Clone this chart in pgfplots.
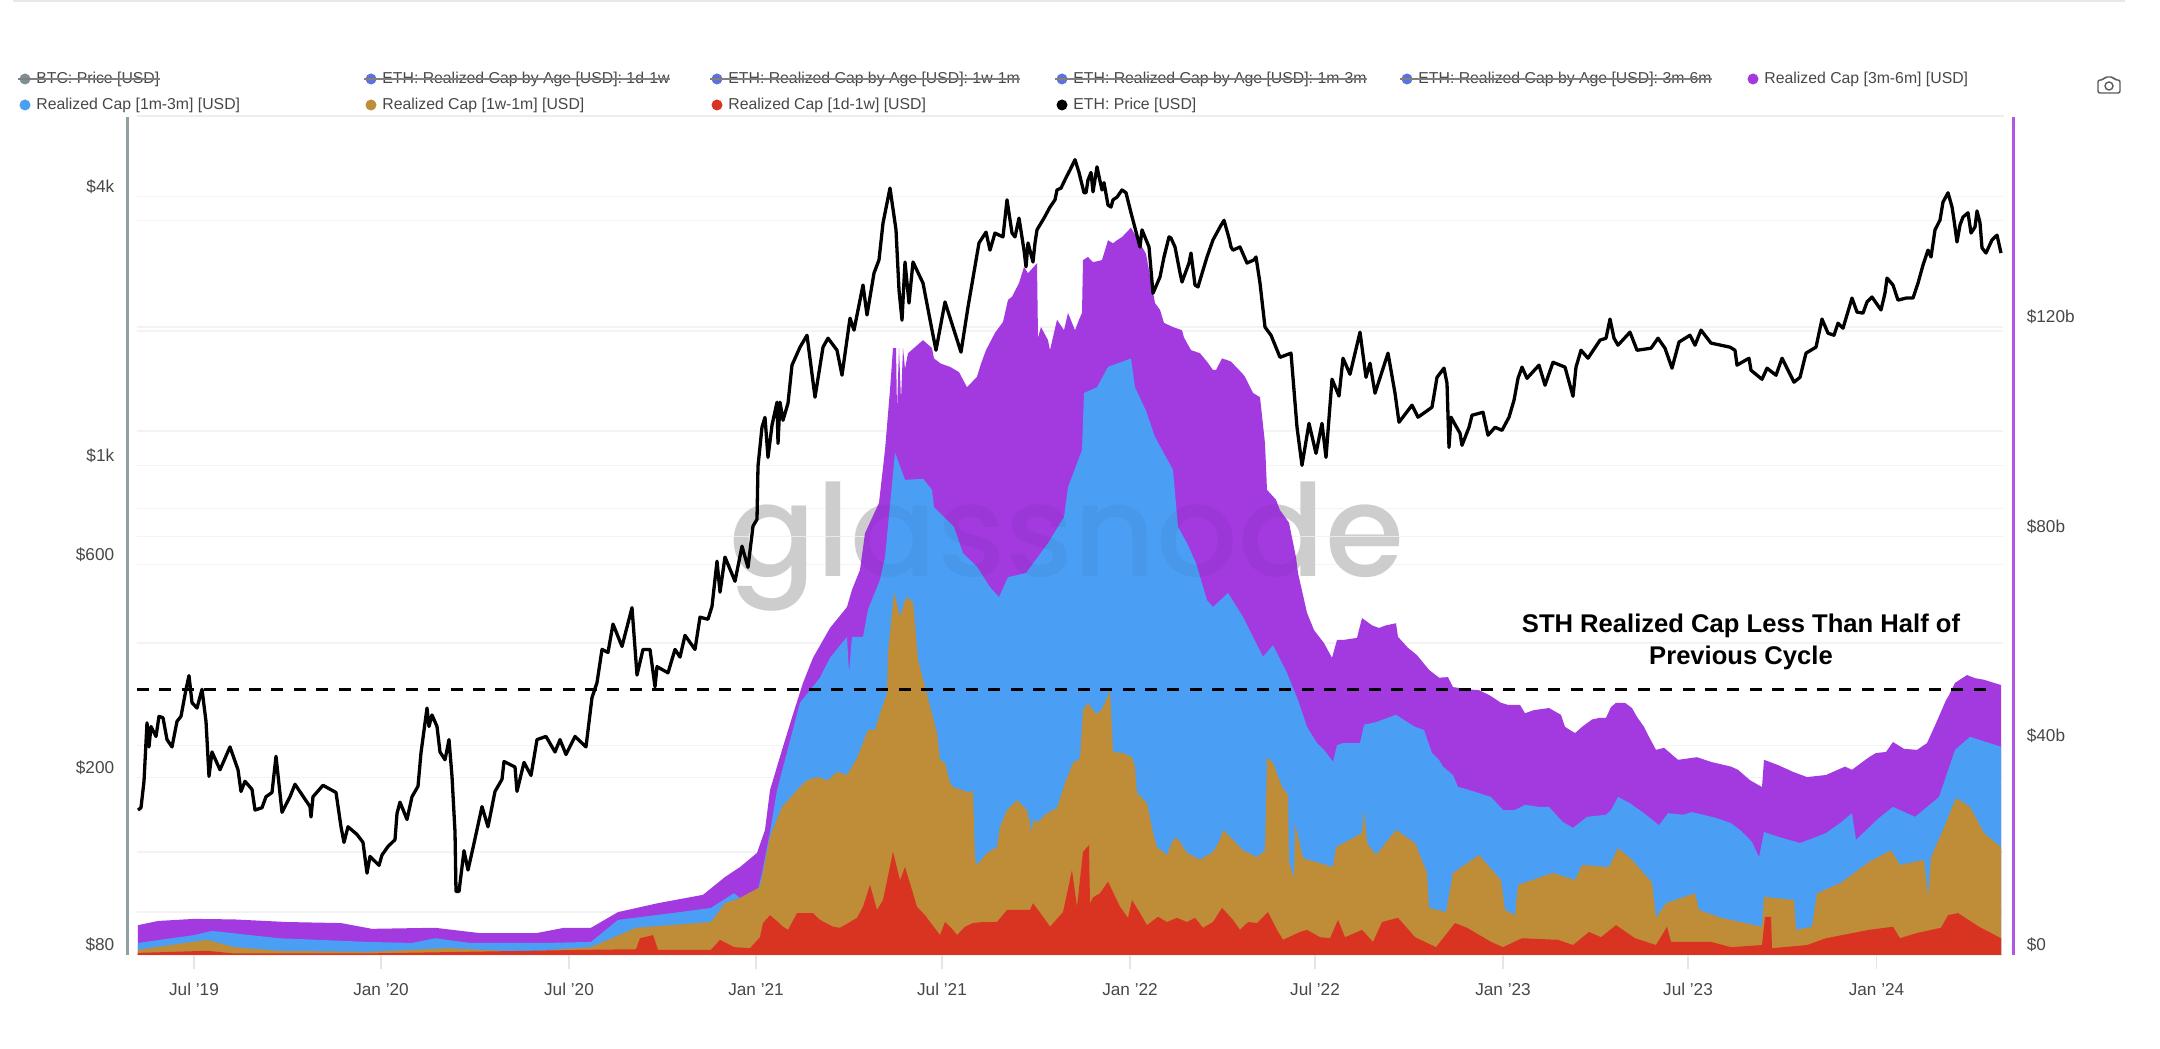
\documentclass[border=0pt]{standalone}
\usepackage{fontspec}
\usepackage{pgfplots}
\pgfplotsset{compat=1.18}
\setmainfont{Liberation Sans}
\newfontfamily\wmfont[UprightFont=* Medium]{Poppins}

\definecolor{cpurple}{HTML}{A23ADF}
\definecolor{cblue}{HTML}{4A9FF5}
\definecolor{corange}{HTML}{BF8C38}
\definecolor{cred}{HTML}{D93422}
\definecolor{ceth}{HTML}{5F72DC}
\definecolor{cbtc}{HTML}{7F8F94}
\definecolor{cgrid}{HTML}{F3F3F3}
\definecolor{ctext}{HTML}{474747}

% x is the position on the time axis, 187.5 units to the half year; y is $bn (stacks are cumulative)
\pgfplotstableread{
t v
138 5.7
158 6.5
194 6.9
234 6.8
287 6.3
341 6.1
372 5.0
435 5.2
479 4.2
537 4.2
564 5.2
591 5.2
618 8.2
658 9.9
703 11.5
725 14.9
740 16.8
757 19.5
765 23.9
770 31.5
777 36
783 39.8
793 46
803 52
813 56.8
830 62.5
847 66.5
852 69.8
860 73.6
865 80.6
879 86.4
885 96.5
890 108
893 116
896 116
897 104
899 116
901 106
903 116
905 112
908 115
923 117.5
932 116
934 114
941 113
950 112.4
959 111.4
967 108.5
972 109.5
977 110.5
981 113
986 115.6
995 118.9
1003 121
1008 125.2
1012 125.8
1019 128.4
1024 131.5
1028 130.3
1037 132.2
1038 118
1041 120
1048 117.5
1050 115.6
1057 121.4
1064 119.4
1068 122.7
1075 119.4
1079 121.4
1082 122.7
1083 132.8
1088 133.4
1093 132.4
1102 132.8
1108 136.6
1113 136
1117 136.6
1122 137.2
1131 139
1146 134
1155 124.6
1160 123.3
1164 120.8
1173 120
1182 119.4
1184 118
1191 115.6
1200 115
1207 113.4
1213 111.8
1216 111.8
1222 114
1227 113.7
1231 113.4
1242 111.2
1245 110.5
1253 107.4
1260 106.6
1265 97.8
1267 88.9
1276 87
1280 85
1289 82.6
1296 76
1298 73
1307 65.4
1314 62.1
1324 59.6
1332 56.8
1337 60.2
1343 60.2
1357 60.6
1362 64.4
1372 63
1379 62.5
1386 63
1396 63.4
1398 60.8
1408 58.7
1417 57.3
1429 54.5
1439 53
1448 53.1
1453 51.2
1467 50.8
1479 50.6
1489 49.7
1501 48.2
1508 47.8
1520 47.8
1525 46.2
1534 46.8
1549 47.2
1561 45.9
1565 43.6
1575 42.4
1582 43.6
1592 45
1599 45.3
1606 45.3
1611 47.4
1616 48.2
1625 48.2
1632 47.2
1637 45.5
1644 43.6
1649 41.7
1656 39.2
1664 39.6
1678 37.3
1697 37.8
1711 36.9
1731 36
1738 35.4
1750 33.4
1762 32.1
1764 37.3
1778 36.3
1793 35
1807 34
1826 34.4
1845 36
1852 35.4
1869 37.8
1876 38.6
1886 38.8
1893 40.7
1904 39.4
1917 39.2
1927 40.5
1936 44.3
1946 48.7
1948 49.3
1955 52
1967 53.5
1975 52.9
1984 52.6
1994 52
2001 51.6
}\tpurple

\pgfplotstableread{
t v
138 2.3
194 3.8
212 4.6
279 3.2
368 2.5
412 2.3
435 3.2
470 2.3
546 2.3
591 2.5
618 6.7
680 8.2
711 9
734 11.8
740 10.9
757 11.8
762 15.7
770 23.5
777 31.5
800 48.2
820 53
830 56.8
847 60.8
849 54
852 60.8
863 60.8
868 66
880 71.7
885 76
892 90
895 96
905 90.8
923 91
932 88.9
934 85.6
954 81.8
963 76.8
977 74.2
990 70.3
999 68.4
1008 72.2
1026 73
1048 78.7
1064 83.7
1068 89.4
1082 96.5
1084 107.4
1097 108.5
1108 112.4
1131 114
1135 108.5
1146 104
1155 99
1173 92.7
1178 81.8
1187 78.7
1196 74.9
1207 67.8
1213 66.5
1228 69.2
1243 64.6
1263 57
1273 59.2
1287 53.9
1298 48.7
1307 43.6
1317 40.5
1324 39.2
1333 36.9
1337 40.1
1343 40.5
1360 40.5
1364 44
1376 44.5
1396 45.9
1415 43.6
1424 43
1432 38.6
1439 37.3
1443 36
1453 34.4
1458 32.1
1463 31.9
1491 30.2
1503 27.7
1515 27.7
1525 28.7
1539 28.3
1549 28.3
1558 26.4
1563 25.4
1573 24.3
1587 26.4
1606 26.8
1611 27.7
1618 30.2
1630 29
1635 28.3
1644 27.1
1659 24.8
1668 27.1
1683 26.8
1692 27.3
1716 26.2
1731 25.2
1740 23.9
1752 21.6
1759 18.7
1764 23.5
1778 22.6
1800 21.4
1814 22.4
1826 23.3
1840 25.2
1852 27.1
1856 22
1879 26.2
1893 28.3
1915 26.4
1939 30.2
1955 39.2
1970 41.7
2001 39.8
}\tblue

\pgfplotstableread{
t v
138 1
207 2.9
234 1.5
279 0.8
368 0.6
448 1.3
524 0.6
591 1.5
636 5.2
711 6.3
725 9.9
740 10.9
760 13
770 22.6
782 28.3
797 31.5
807 33.4
817 34
828 33.4
837 35
847 34.4
857 37.6
868 43
875 43
880 46.2
887 50
888 57.7
894 69.4
900 64.6
906 68.4
913 67.5
918 56.4
937 42.4
940 37.3
945 36.7
950 32.9
953 32.1
970 31
973 31.5
975 18.2
977 17.2
987 19.5
997 20.6
1000 24.5
1007 27.7
1017 29.6
1027 27.7
1032 23.3
1033 25.8
1038 25.4
1047 27.1
1057 28.1
1065 32.9
1073 36.7
1080 37.6
1083 46.8
1088 48.2
1095 46.2
1100 46.4
1105 48.2
1110 50.6
1113 38.8
1123 38.6
1132 37.8
1135 35.9
1137 31
1147 29
1148 28.1
1153 23.3
1157 20.6
1167 19.1
1173 22
1177 22.4
1187 19.5
1200 18.2
1213 19.7
1220 22
1223 23.9
1233 22
1243 20
1257 18.7
1265 20
1267 37.8
1273 36.7
1282 32.1
1288 30.6
1289 17.8
1294 14.7
1295 25.2
1303 18.5
1333 16.8
1336 20.6
1362 23.3
1364 27.7
1367 21.4
1376 19.1
1396 23.9
1415 21.4
1427 15.7
1429 9
1446 8.2
1453 15.7
1479 19.1
1501 14.3
1505 8.6
1515 7.6
1518 13.4
1553 15.7
1575 14.3
1582 17.2
1609 16.8
1618 20.4
1632 18.2
1652 13.8
1656 7.1
1666 9.9
1695 11.8
1699 8.6
1721 7.1
1762 5.4
1764 11.1
1794 10.5
1796 4.8
1812 5.4
1817 11.8
1841 13.8
1869 17.8
1891 20
1900 17.2
1924 18.2
1928 11.1
1931 18.7
1943 23.9
1956 30
1970 28.3
1984 23.3
2001 20.6
}\torange

\pgfplotstableread{
t v
138 0.4
207 0.8
234 0.3
368 0.3
591 1
636 1.1
640 3.2
653 3.8
658 1
711 1
720 2.9
734 1.5
750 1.3
760 3.4
763 6.1
770 7.6
778 6.3
783 5.4
788 4.8
797 8
813 8
820 6.7
833 5.4
840 5.2
850 6.3
857 7.1
863 9.2
870 13.4
877 8.6
883 10.5
893 19.7
900 14.3
905 16.8
913 11.8
917 9.2
925 7.6
940 3.8
945 6.3
953 4.8
957 3.8
965 5.4
973 6.1
983 6.3
997 6.3
1007 8.6
1017 8.6
1030 8.6
1033 9.9
1042 7.6
1050 5.4
1063 8.2
1072 16.2
1077 9.2
1083 19.7
1089 21
1090 9.9
1093 11
1100 11.8
1108 14
1120 9.2
1128 7.1
1132 10.5
1140 8
1147 5.7
1158 7.3
1167 6.3
1177 7.1
1187 6.3
1195 7.1
1203 5.2
1213 6.3
1222 9
1233 6.7
1240 4.8
1248 6.3
1257 6.1
1268 8.2
1273 6.3
1277 4.8
1283 2.9
1300 4.4
1307 4.8
1320 3.4
1330 3.2
1338 6.7
1345 3.4
1362 4.8
1373 2.5
1382 6.3
1398 7.1
1415 3.4
1436 1.5
1455 6.1
1467 5.2
1491 2.5
1503 1.5
1522 3.2
1558 2.9
1573 1.9
1589 4.4
1601 3.4
1616 5.7
1635 3.2
1656 1.9
1667 5.4
1671 2.5
1711 2.5
1731 1.5
1762 1.9
1765 7.3
1771 7.3
1772 1.3
1807 1.9
1826 3.2
1869 4.8
1893 5.4
1900 3.2
1917 4.2
1941 5.2
1948 7.6
1958 8
1979 5.4
2001 3.2
}\tred

\pgfplotstableread{
t p
138 169
141 171
144 196
147 265
149 234
151 260
156 247
159 274
163 272
167 243
172 234
177 267
181 274
186 315
189 338
192 294
197 286
202 315
206 267
209 201
212 228
220 208
230 234
238 208
241 186
245 196
252 188
255 169
262 171
266 181
272 185
276 223
282 167
290 181
295 193
310 172
311 163
313 181
323 192
336 185
341 155
344 143
348 155
357 149
363 143
367 122
370 133
379 127
382 134
388 140
395 145
397 166
400 176
407 161
412 181
418 191
421 227
427 286
429 260
432 276
437 260
440 228
445 219
449 243
452 201
455 151
456 111
459 111
464 137
468 124
473 139
482 172
488 155
495 186
502 198
504 217
515 211
517 186
524 216
531 202
537 243
546 247
555 228
560 243
566 225
575 247
586 234
592 302
597 326
602 387
608 381
613 441
622 393
632 480
637 339
643 387
650 387
655 319
657 354
668 343
675 387
680 372
685 416
695 387
700 457
708 452
712 483
717 610
720 520
725 623
735 550
742 659
748 591
753 731
757 757
758 996
762 1218
765 1281
768 1042
772 1230
777 1385
778 1120
780 1385
783 1262
788 1378
792 1677
800 1840
807 1957
815 1421
823 1840
828 1927
837 1811
842 1592
850 2137
854 2009
863 2535
867 2172
874 2696
879 2886
883 3490
890 4180
896 3370
899 2470
902 2115
905 2855
909 2310
913 2855
923 2560
932 2009
936 1811
945 2323
961 1793
968 2263
979 3150
986 3330
990 3035
995 3315
999 3280
1003 3250
1007 3935
1012 3315
1015 3250
1019 3580
1024 3035
1026 2785
1028 3150
1033 2855
1035 3150
1037 3370
1044 3580
1050 3790
1055 3935
1057 4140
1061 4180
1066 4410
1070 4590
1075 4840
1079 4530
1084 4080
1086 4080
1088 4360
1091 4530
1093 4100
1097 4665
1099 4440
1102 4140
1104 4300
1108 3830
1111 3790
1113 3935
1117 3990
1122 4140
1126 4080
1131 3680
1140 3085
1142 3370
1149 3085
1153 2430
1160 2643
1164 2930
1169 3250
1171 3230
1175 3085
1180 2700
1182 2575
1189 2840
1191 2990
1195 2535
1198 2510
1200 2600
1207 2930
1213 3200
1220 3420
1224 3540
1229 3230
1231 3085
1233 3035
1240 3085
1247 2840
1254 2886
1256 2930
1260 2560
1265 2040
1271 1957
1280 1746
1291 1784
1297 1217
1302 1000
1309 1242
1316 1064
1322 1242
1326 1042
1332 1560
1339 1430
1343 1738
1350 1600
1360 1988
1366 1575
1370 1694
1375 1451
1388 1784
1395 1451
1399 1249
1412 1364
1418 1282
1426 1320
1432 1350
1437 1575
1444 1651
1447 1527
1449 1097
1451 1282
1460 1180
1462 1109
1469 1217
1472 1295
1483 1315
1488 1168
1495 1217
1502 1198
1509 1282
1514 1399
1518 1567
1522 1660
1527 1567
1539 1677
1545 1512
1553 1702
1565 1660
1573 1428
1576 1660
1581 1811
1588 1738
1600 1908
1606 1927
1610 2127
1614 1927
1618 1859
1630 1988
1637 1811
1651 1830
1658 1927
1665 1830
1672 1651
1679 1889
1690 1957
1695 1859
1701 2009
1711 1879
1730 1840
1735 1811
1737 1677
1749 1738
1751 1633
1762 1559
1767 1651
1776 1592
1782 1738
1794 1536
1800 1575
1806 1784
1816 1840
1822 2127
1828 1978
1834 1957
1838 2082
1843 2029
1852 2370
1857 2205
1863 2193
1867 2323
1872 2383
1881 2229
1885 2432
1887 2628
1893 2535
1898 2345
1906 2370
1913 2370
1918 2560
1923 2810
1928 3035
1931 2930
1935 3370
1940 3545
1943 3890
1948 4080
1952 3795
1954 3545
1957 3165
1960 3455
1963 3600
1968 3680
1971 3315
1975 3420
1977 3715
1980 3495
1982 3070
1986 2990
1992 3200
1997 3280
2001 2990
}\tprice

\newcommand{\legon}[4]{%
  \fill[#3] (#1,#2) circle (5.5);
  \node[anchor=west,inner sep=0pt,text=ctext,font=\fontsize{7.9}{9}\selectfont] at (#1+11,#2) {#4};}
\newcommand{\legoff}[4]{%
  \fill[#3] (#1,#2) circle (5.5);
  \node[anchor=west,inner sep=0pt,text=ctext,font=\fontsize{7.9}{9}\selectfont] (n) at (#1+11,#2) {#4};
  \draw[gray,line width=0.6pt] (#1-7,#2) -- (n.east);}
\newcommand{\watermark}[1]{%
  \node[#1,anchor=base,inner sep=0pt] at (1067,577) {\resizebox{337pt}{!}{\wmfont glassnode}};}

\pgfplotsset{chart/.style={
  scale only axis, width=933.4pt, height=419.5pt,
  at={(68.3pt,47pt)}, anchor=south west,
  xmin=136.6, xmax=2003.4,
  tick label style={font=\fontsize{8.6}{10}\selectfont, text=ctext},
}}
% reference pixel coordinates for what is not data
\tikzset{px/.style={shift={(0pt,524.5pt)},x=0.5pt,y=-0.5pt}}

\begin{document}
\begin{tikzpicture}
\path (0pt,0pt) rectangle (1080pt,524.5pt);
\begin{scope}[px]
\fill[black!9] (13,0) rectangle (2125,2);
\draw[black!7,line width=1pt] (137,116) -- (2004,116);
\end{scope}

% price axis: labels and grid, under the bars
\begin{axis}[chart, ymode=log, ymin=80, ymax=6064,
  axis x line=none, axis y line*=left, axis line style={draw=none},
  ytick={80,200,600,1000,4000},
  yticklabels={\$80,\$200,\$600,\$1k,\$4k},
  minor ytick={100,136,400,800,1195,2000,3537},
  ymajorgrids, yminorgrids,
  grid style={cgrid,line width=0.8pt}, minor grid style={cgrid,line width=0.8pt},
  major tick length=0pt, minor tick length=0pt,
  yticklabel style={anchor=east,xshift=-11pt,yshift=5pt,inner sep=0pt},
]
\addplot[draw=none] coordinates {(138,169) (2001,2990)};
\end{axis}

\begin{scope}[px]
\watermark{text=black!16}
\end{scope}

% realized cap stack
\begin{axis}[chart, ymin=0, ymax=160.34,
  axis x line*=bottom, axis y line*=right, axis line style={draw=none},
  xtick={194,381,569,756,942,1130,1315,1503,1688,1876.5},
  xticklabels={Jul '19,Jan '20,Jul '20,Jan '21,Jul '21,Jan '22,Jul '22,Jan '23,Jul '23,Jan '24},
  x tick style={black!10,line width=0.8pt},
  xtick align=outside, tick pos=lower,
  ytick={0,40,80,120},
  yticklabels={\$0,\$40b,\$80b,\$120b},
  ytick pos=right,
  ymajorgrids, grid style={cgrid,line width=0.8pt},
  major tick length=7pt,
  y tick style={draw=none},
  yticklabel style={anchor=west,xshift=11.5pt,yshift=5pt,inner sep=0pt},
  xticklabel style={inner sep=0pt,yshift=-7pt},
]
\addplot[fill=cpurple,draw=none] table[x=t,y=v] {\tpurple} \closedcycle;
\addplot[fill=cblue,draw=none] table[x=t,y=v] {\tblue} \closedcycle;
\addplot[fill=corange,draw=none] table[x=t,y=v] {\torange} \closedcycle;
\addplot[fill=cred,draw=none] table[x=t,y=v] {\tred} \closedcycle;
\end{axis}

\begin{scope}[px]
\begin{scope}[opacity=0.04]
\watermark{text=black}
\end{scope}
\end{scope}

% price line and reference level
\begin{axis}[chart, ymode=log, ymin=80, ymax=6064, hide axis]
\addplot[black,line width=1.65pt,line join=round] table[x=t,y=p] {\tprice};
\end{axis}
\begin{axis}[chart, ymin=0, ymax=160.34, hide axis]
\addplot[black,line width=1.5pt,dash pattern=on 6pt off 5.2pt] coordinates {(137,50.8) (1992,50.8)};
\end{axis}

\begin{scope}[px]
% spines
\draw[cbtc!85,line width=1.5pt] (127.7,117) -- (127.7,955);
\draw[cpurple!85,line width=1.5pt] (2013,117) -- (2013,955);

\node[align=center,font=\fontsize{12.8}{15.7}\selectfont\bfseries,text=black,inner sep=0pt] at (1741,642)
  {STH Realized Cap Less Than Half of\\Previous Cycle};

% legend
\legoff{25}{79}{cbtc}{BTC: Price [USD]}
\legoff{371}{79}{ceth}{ETH: Realized Cap by Age [USD]: 1d-1w}
\legoff{717}{79}{ceth}{ETH: Realized Cap by Age [USD]: 1w-1m}
\legoff{1062}{79}{ceth}{ETH: Realized Cap by Age [USD]: 1m-3m}
\legoff{1407}{79}{ceth}{ETH: Realized Cap by Age [USD]: 3m-6m}
\legon{1753}{79}{cpurple}{Realized Cap [3m-6m] [USD]}
\legon{25}{105}{cblue}{Realized Cap [1m-3m] [USD]}
\legon{371}{105}{corange}{Realized Cap [1w-1m] [USD]}
\legon{717}{105}{cred}{Realized Cap [1d-1w] [USD]}
\legon{1062}{105}{black}{ETH: Price [USD]}

% camera icon
\draw[black!65,line width=0.7pt,rounded corners=1pt] (2098,80) -- (2103,80) -- (2105,77) -- (2113,77) -- (2115,80) -- (2120,80) -- (2120,93) -- (2098,93) -- cycle;
\draw[black!65,line width=0.7pt] (2109,86) circle (4);
\end{scope}
\end{tikzpicture}
\end{document}
